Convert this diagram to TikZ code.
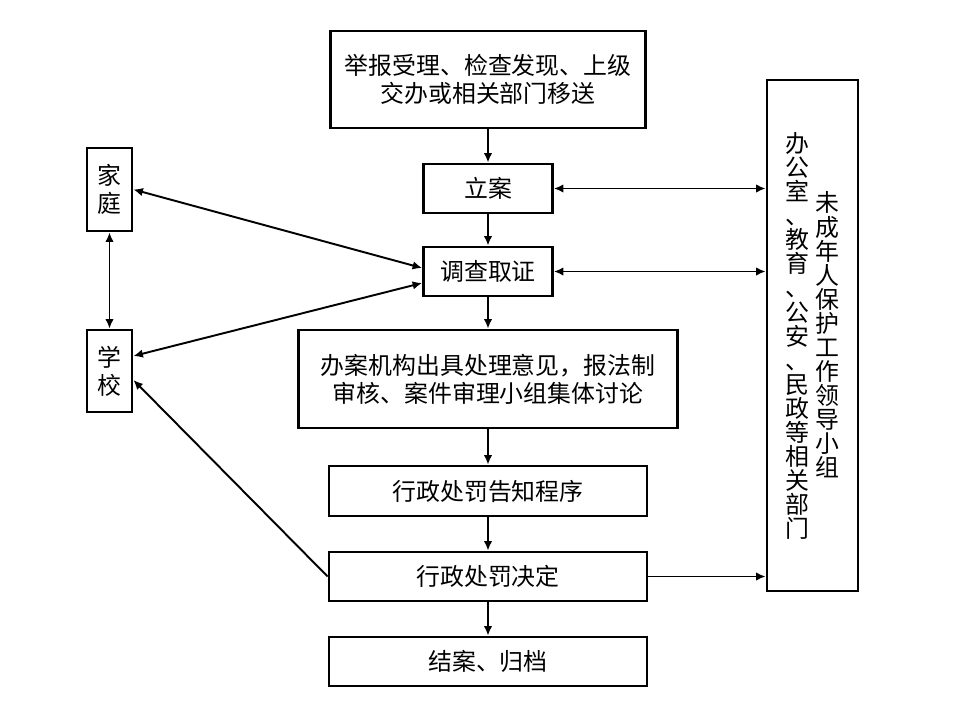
\documentclass[tikz,border=0pt]{standalone}
\usepackage{fontspec}
\newfontfamily\cjk{Noto Sans CJK SC}
\usetikzlibrary{arrows.meta, positioning}

\begin{document}
\begin{tikzpicture}[
    x=0.02cm, y=-0.02cm,
    box/.style={rectangle, draw, line width=1.6pt, align=center, inner sep=2pt,
        font=\cjk\fontsize{13.6pt}{15.9pt}\selectfont},
    vtext/.style={align=left, inner sep=0pt, font=\cjk\fontsize{13.6pt}{13.7pt}\selectfont},
    flow/.style={line width=1.1pt, -{Latex[length=1.9mm, width=1.7mm]}},
    both/.style={line width=1.1pt, {Latex[length=1.9mm, width=1.7mm]}-{Latex[length=1.9mm, width=1.7mm]}}
]
    \useasboundingbox (0,0) rectangle (960,720);

    % 主流程
    \node[box, minimum width=6.3cm, minimum height=1.94cm] (report) at (488,79.5)
        {举报受理、检查发现、上级\\交办或相关部门移送};
    \node[box, minimum width=2.58cm, minimum height=0.98cm] (file) at (488,188.5) {立案};
    \node[box, minimum width=2.58cm, minimum height=0.98cm] (probe) at (488,271.5) {调查取证};
    \node[box, minimum width=7.58cm, minimum height=1.96cm] (opinion) at (488,379)
        {办案机构出具处理意见，报法制\\审核、案件审理小组集体讨论};
    \node[box, minimum width=6.36cm, minimum height=1.0cm] (notice) at (488,491) {行政处罚告知程序};
    \node[box, minimum width=6.36cm, minimum height=0.98cm] (decide) at (488,576.5) {行政处罚决定};
    \node[box, minimum width=6.36cm, minimum height=0.98cm] (close) at (488,661.5) {结案、归档};

    % 左侧：家庭、学校
    \node[box, minimum width=0.9cm, minimum height=1.66cm] (family) at (109.5,189.5) {家\\庭};
    \node[box, minimum width=0.9cm, minimum height=1.64cm] (school) at (109.5,371) {学\\校};

    % 右侧：领导小组
    \node[box, minimum width=1.82cm, minimum height=10.22cm] (group) at (812.5,335.5) {};
    \node[vtext] (groupA) at (797,336)
        {办\\公\\室\\、\\教\\育\\、\\公\\安\\、\\民\\政\\等\\相\\关\\部\\门};
    \node[vtext] (groupB) at (827,335)
        {未\\成\\年\\人\\保\\护\\工\\作\\领\\导\\小\\组};

    \draw[flow] (report) -- (file);
    \draw[flow] (file) -- (probe);
    \draw[flow] (probe) -- (opinion);
    \draw[flow] (opinion) -- (notice);
    \draw[flow] (notice) -- (decide);
    \draw[flow] (decide) -- (close);

    \draw[both] (file.east) -- (file.east -| group.west);
    \draw[both] (probe.east) -- (probe.east -| group.west);
    \draw[flow] (decide.east) -- (decide.east -| group.west);

    \draw[both] (family.east) -- ([yshift=0.07cm]probe.west);
    \draw[both] ([yshift=0.3cm]school.east) -- ([yshift=-0.23cm]probe.west);
    \draw[both] (family.south) -- (school.north);
    \draw[flow] (decide.west) -- ([yshift=-0.18cm]school.east);
\end{tikzpicture}
\end{document}
